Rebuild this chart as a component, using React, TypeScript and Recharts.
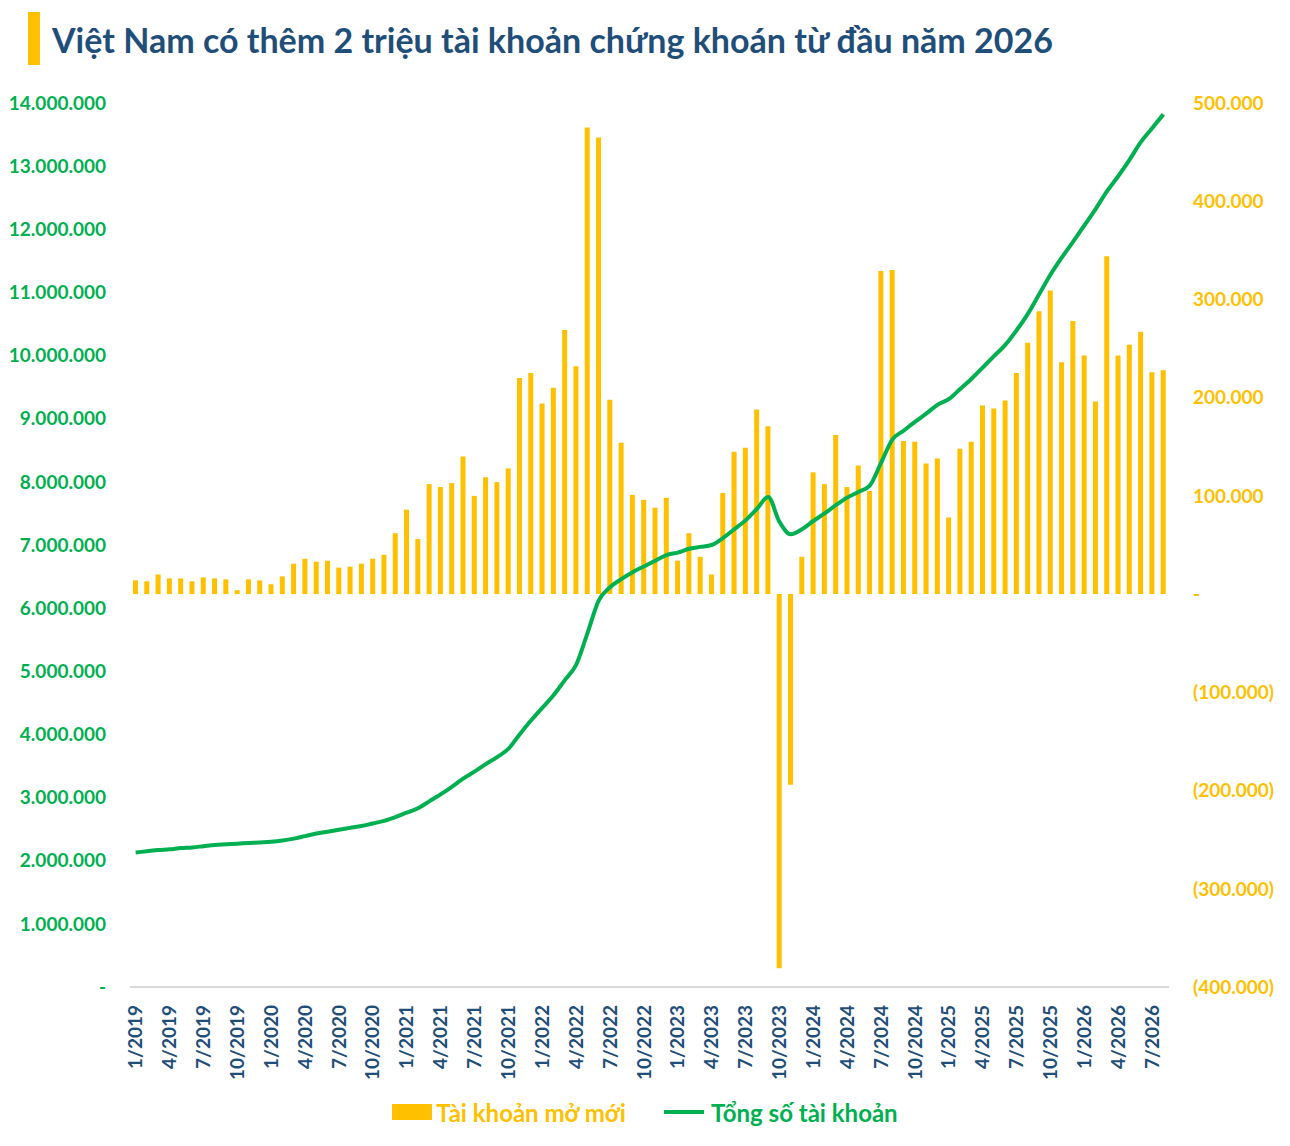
import React from 'react'
import { ComposedChart, Bar, Line, XAxis, YAxis, Legend } from 'recharts'

const GOLD = '#FFC000'
const GREEN = '#00B050'
const NAVY = '#1F4E79'
const FONT = 'Lato, "Noto Sans", sans-serif'

// months 1/2019 .. 8/2026
const months = [
  '1/2019', '2/2019', '3/2019', '4/2019', '5/2019', '6/2019', '7/2019', '8/2019', '9/2019', '10/2019', '11/2019', '12/2019',
  '1/2020', '2/2020', '3/2020', '4/2020', '5/2020', '6/2020', '7/2020', '8/2020', '9/2020', '10/2020', '11/2020', '12/2020',
  '1/2021', '2/2021', '3/2021', '4/2021', '5/2021', '6/2021', '7/2021', '8/2021', '9/2021', '10/2021', '11/2021', '12/2021',
  '1/2022', '2/2022', '3/2022', '4/2022', '5/2022', '6/2022', '7/2022', '8/2022', '9/2022', '10/2022', '11/2022', '12/2022',
  '1/2023', '2/2023', '3/2023', '4/2023', '5/2023', '6/2023', '7/2023', '8/2023', '9/2023', '10/2023', '11/2023', '12/2023',
  '1/2024', '2/2024', '3/2024', '4/2024', '5/2024', '6/2024', '7/2024', '8/2024', '9/2024', '10/2024', '11/2024', '12/2024',
  '1/2025', '2/2025', '3/2025', '4/2025', '5/2025', '6/2025', '7/2025', '8/2025', '9/2025', '10/2025', '11/2025', '12/2025',
  '1/2026', '2/2026', '3/2026', '4/2026', '5/2026', '6/2026', '7/2026', '8/2026',
]

// new accounts opened per month
const newAccounts = [
  14000, 13000, 20000, 16000, 16000, 13000, 17000, 16000, 15000, 4000, 15000, 14000,
  10000, 18000, 31000, 36000, 33000, 34000, 27000, 28000, 31000, 36000, 40000, 62000,
  86000, 56000, 112000, 109000, 113000, 140000, 100000, 119000, 114000, 128000, 220000, 225000,
  194000, 210000, 269000, 232000, 475000, 465000, 198000, 154000, 101000, 96000, 88000, 98000,
  34000, 62000, 38000, 20000, 103000, 145000, 149000, 188000, 171000, -381000, -194000, 38000,
  124000, 112000, 162000, 109000, 131000, 105000, 329000, 330000, 156000, 155000, 133000, 138000,
  78000, 148000, 155000, 192000, 189000, 197000, 225000, 256000, 288000, 309000, 236000, 278000,
  243000, 196000, 344000, 243000, 254000, 267000, 226000, 228000,
]

// total accounts (millions)
const totalAccounts = [
  2.13, 2.15, 2.17, 2.18, 2.2, 2.21, 2.23, 2.25, 2.26, 2.27, 2.28, 2.29,
  2.3, 2.32, 2.35, 2.39, 2.43, 2.46, 2.49, 2.52, 2.55, 2.59, 2.63, 2.69,
  2.76, 2.83, 2.94, 3.05, 3.17, 3.3, 3.41, 3.53, 3.64, 3.77, 4.0, 4.22,
  4.42, 4.62, 4.86, 5.1, 5.6, 6.12, 6.33, 6.46, 6.57, 6.66, 6.75, 6.84,
  6.88, 6.94, 6.97, 7.0, 7.11, 7.25, 7.39, 7.57, 7.76, 7.37, 7.17, 7.25,
  7.38, 7.5, 7.63, 7.75, 7.84, 7.94, 8.3, 8.67, 8.81, 8.95, 9.08, 9.22,
  9.31, 9.47, 9.63, 9.81, 9.99, 10.17, 10.4, 10.66, 10.97, 11.28, 11.55, 11.8,
  12.06, 12.32, 12.6, 12.84, 13.1, 13.38, 13.6, 13.82,
]

const leftTicks = [0, 1, 2, 3, 4, 5, 6, 7, 8, 9, 10, 11, 12, 13, 14].map((m) => m * 1000000)
const rightTicks = [-400000, -300000, -200000, -100000, 0, 100000, 200000, 300000, 400000, 500000]

const data = months.map((month, i) => ({
  month,
  newAcc: newAccounts[i],
  total: Math.round(totalAccounts[i] * 1000000),
}))

const dots = (v: number) => String(Math.abs(v)).replace(/\B(?=(\d{3})+(?!\d))/g, '.')
const fmtLeft = (v: number) => (v === 0 ? '-' : dots(v))
const fmtRight = (v: number) => (v === 0 ? '-' : v < 0 ? `(${dots(v)})` : dots(v))

const MonthTick = ({ x, y, payload }: any) => (
  <g transform={`translate(${x},${y + 10})`}>
    <text transform="rotate(-90)" textAnchor="end" dy="0.35em" fill={NAVY}
      style={{ fontFamily: FONT, fontWeight: 700, fontSize: 19 }}>
      {payload.value}
    </text>
  </g>
)

const LegendContent = () => (
  <div style={{ display: 'flex', justifyContent: 'center', alignItems: 'center', height: 30,
    fontFamily: FONT, fontWeight: 700, fontSize: 24 }}>
    <span style={{ width: 40, height: 16, background: GOLD, marginRight: 4 }} />
    <span style={{ color: GOLD }}>Tài khoản mở mới</span>
    <span style={{ width: 40, height: 4, background: GREEN, marginLeft: 38, marginRight: 7 }} />
    <span style={{ color: GREEN }}>Tổng số tài khoản</span>
  </div>
)

export default function App() {
  return (
    <div style={{ position: 'absolute', left: 0, top: 0, width: 1290, height: 1146, background: '#fff' }}>
      <div style={{ position: 'absolute', left: 28, top: 12, width: 12, height: 53, background: GOLD }} />
      <div style={{ position: 'absolute', left: 52, top: 19, fontFamily: FONT, fontWeight: 700,
        fontSize: 34, lineHeight: '42px', color: NAVY, whiteSpace: 'nowrap' }}>
        Việt Nam có thêm 2 triệu tài khoản chứng khoán từ đầu năm 2026
      </div>
      <ComposedChart width={1290} height={1146} data={data}
        margin={{ top: 103, right: 0, bottom: 19, left: 0 }}>
        <XAxis dataKey="month" interval={2} tick={<MonthTick />} tickLine={false}
          axisLine={{ stroke: '#D9D9D9', strokeWidth: 2 }} height={110} />
        <YAxis yAxisId="left" orientation="left" width={130} domain={[0, 14000000]} ticks={leftTicks}
          tickFormatter={fmtLeft} axisLine={false} tickLine={false} tickMargin={18}
          tick={{ fill: GREEN, fontFamily: FONT, fontWeight: 700, fontSize: 19 }} />
        <YAxis yAxisId="right" orientation="right" width={121} domain={[-400000, 500000]} ticks={rightTicks}
          tickFormatter={fmtRight} axisLine={false} tickLine={false} tickMargin={18}
          tick={{ fill: GOLD, fontFamily: FONT, fontWeight: 700, fontSize: 19 }} />
        <Legend verticalAlign="bottom" content={() => <LegendContent />} />
        <Bar yAxisId="right" dataKey="newAcc" fill={GOLD} barSize={5} isAnimationActive={false} />
        <Line yAxisId="left" dataKey="total" type="monotone" stroke={GREEN} strokeWidth={4}
          dot={false} isAnimationActive={false} />
      </ComposedChart>
    </div>
  )
}
